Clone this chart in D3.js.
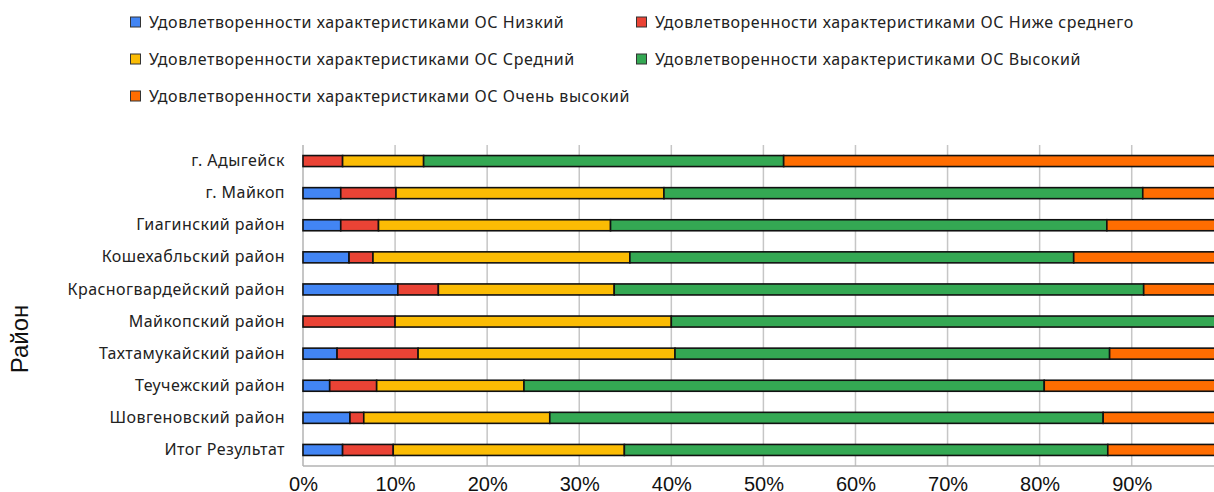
<!DOCTYPE html>
<html>
<head>
<meta charset="utf-8">
<script src="https://cdn.jsdelivr.net/npm/d3@7"></script>
<style>
  html, body { margin: 0; padding: 0; background: #fff; overflow: hidden; }
  svg { display: block; }
</style>
</head>
<body>
<svg id="chart" width="1214" height="492"></svg>
<script>
const categories = [
  "г. Адыгейск", "г. Майкоп", "Гиагинский район", "Кошехабльский район",
  "Красногвардейский район", "Майкопский район", "Тахтамукайский район",
  "Теучежский район", "Шовгеновский район", "Итог Результат"
];
const seriesNames = [
  "Удовлетворенности характеристиками ОС Низкий",
  "Удовлетворенности характеристиками ОС Ниже среднего",
  "Удовлетворенности характеристиками ОС Средний",
  "Удовлетворенности характеристиками ОС Высокий",
  "Удовлетворенности характеристиками ОС Очень высокий"
];
const seriesColors = ["#4285F4", "#EA4335", "#FBBC04", "#34A853", "#FF6D01"];
// percentage shares per category
const low      = [0,    4.1,  4.1,  5.0,  10.3, 0,    3.7,  2.9,  5.1,  4.3];
const belowAvg = [4.3,  6.0,  4.1,  2.6,  4.4,  10.0, 8.8,  5.1,  1.5,  5.5];
const medium   = [8.8,  29.1, 25.2, 27.9, 19.1, 30.0, 27.9, 16.0, 20.2, 25.1];
const high     = [39.1, 52.0, 53.9, 48.2, 57.5, 60.0, 47.2, 56.5, 60.1, 52.5];
const veryHigh = [47.8, 8.8,  12.7, 16.3, 8.7,  0,    12.4, 19.5, 13.1, 12.6];
const tickValues = [0, 0.1, 0.2, 0.3, 0.4, 0.5, 0.6, 0.7, 0.8, 0.9];
const axisTitle = "Район";

const seriesValues = [low, belowAvg, medium, high, veryHigh];
const rows = categories.map((c, i) => {
  const r = { cat: c };
  const total = seriesValues.reduce((s, arr) => s + arr[i], 0);
  seriesValues.forEach((arr, k) => { r["s" + k] = arr[i] / total; });
  return r;
});
const keys = seriesNames.map((_, k) => "s" + k);
const stacked = d3.stack().keys(keys)(rows);

const svg = d3.select("#chart");
const plotLeft = 303, plotRight = 1223.8, plotTop = 145, plotBottom = 466;

const x = d3.scaleLinear().domain([0, 1]).range([plotLeft, plotRight]);
const y = d3.scaleBand().domain(categories).range([plotTop, plotBottom])
  .paddingInner(0.657).paddingOuter(0.3285);

// gridlines
svg.append("g").selectAll("line").data(tickValues.filter(t => t > 0)).join("line")
  .attr("x1", d => x(d)).attr("x2", d => x(d))
  .attr("y1", plotTop).attr("y2", plotBottom)
  .attr("stroke", "#c6c6c6").attr("stroke-width", 1.5);

// axis lines
svg.append("line").attr("x1", plotLeft).attr("x2", plotLeft)
  .attr("y1", plotTop).attr("y2", plotBottom)
  .attr("stroke", "#b3b3b3").attr("stroke-width", 1.5);
svg.append("line").attr("x1", plotLeft).attr("x2", 1214)
  .attr("y1", plotBottom).attr("y2", plotBottom)
  .attr("stroke", "#b3b3b3").attr("stroke-width", 1.5);

// bars
svg.append("g").selectAll("g").data(stacked).join("g")
  .attr("fill", (d, i) => seriesColors[i])
  .selectAll("rect").data(d => d.filter(s => s[1] - s[0] > 0)).join("rect")
  .attr("x", d => x(d[0]))
  .attr("width", d => x(d[1]) - x(d[0]))
  .attr("y", d => y(d.data.cat))
  .attr("height", y.bandwidth())
  .attr("stroke", "#111").attr("stroke-width", 1.6);

// category labels
const yAxis = d3.axisLeft(y).tickSize(0).tickPadding(18);
const gy = svg.append("g").attr("transform", `translate(${plotLeft},0)`).call(yAxis);
gy.select(".domain").remove();
gy.selectAll("text")
  .attr("font-family", "'Noto Sans', sans-serif")
  .attr("font-size", 16)
  .attr("letter-spacing", "0.45px")
  .attr("fill", "#222");

// x tick labels
const xAxis = d3.axisBottom(x).tickValues(tickValues).tickSize(0).tickPadding(0)
  .tickFormat(d3.format(".0%"));
const gx = svg.append("g").attr("transform", `translate(0,${plotBottom})`).call(xAxis);
gx.select(".domain").remove();
gx.selectAll("text")
  .attr("dy", null).attr("y", 25)
  .attr("font-family", "'Liberation Sans', Arial, sans-serif")
  .attr("font-size", 20)
  .attr("fill", "#111");

// axis title
svg.append("text")
  .attr("transform", "translate(28,339) rotate(-90)")
  .attr("text-anchor", "middle")
  .attr("font-family", "'Liberation Sans', Arial, sans-serif")
  .attr("font-size", 24)
  .attr("fill", "#111")
  .text(axisTitle);

// legend
const legendPos = [
  [130, 22], [636, 22],
  [130, 59], [636, 59],
  [130, 96]
];
const lg = svg.append("g").selectAll("g").data(seriesNames).join("g")
  .attr("transform", (d, i) => `translate(${legendPos[i][0]},${legendPos[i][1]})`);
lg.append("rect").attr("x", 0.5).attr("y", -5).attr("width", 10).attr("height", 10)
  .attr("fill", (d, i) => seriesColors[i])
  .attr("stroke", "#333").attr("stroke-width", 1);
lg.append("text").attr("x", 19).attr("y", 0).attr("dy", "0.35em")
  .attr("font-family", "'Noto Sans', sans-serif")
  .attr("font-size", 16)
  .attr("letter-spacing", "0.56px")
  .attr("fill", "#222")
  .text(d => d);
</script>
</body>
</html>
